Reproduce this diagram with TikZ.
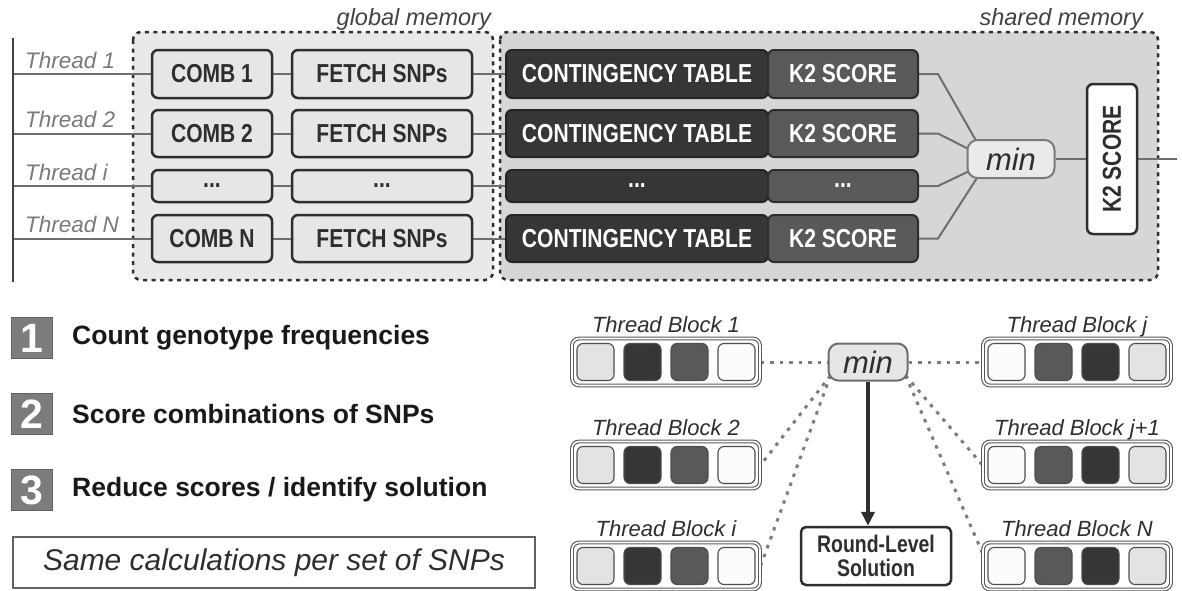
\documentclass[tikz,border=0pt]{standalone}
\usepackage{fontspec}
\setmainfont{Liberation Sans}
\newfontfamily\condf[FakeStretch=0.81]{Liberation Sans}
\usetikzlibrary{calc,arrows.meta}
\pgfdeclarelayer{bg}
\pgfdeclarelayer{conn}
\pgfsetlayers{bg,conn,main}
\definecolor{ink}{HTML}{2E2E2E}
\definecolor{lightbg}{HTML}{E9E9E9}
\definecolor{sharedbg}{HTML}{D6D6D6}
\definecolor{boxfill}{HTML}{E6E6E6}
\definecolor{darkfill}{HTML}{363636}
\definecolor{midfill}{HTML}{595959}
\definecolor{linegray}{HTML}{6E6E6E}
\definecolor{labelgray}{HTML}{7A7A7A}
\definecolor{numgray}{HTML}{7C7C7C}
\definecolor{cellwhite}{HTML}{FCFCFC}
\definecolor{celllight}{HTML}{E3E3E3}
\definecolor{minfill}{HTML}{EAEAEA}
\newcommand{\tdots}{\textbf{...}}
\tikzset{
  membox/.style={draw=ink, line width=2.5pt, dash pattern=on 4pt off 4.5pt, rounded corners=8pt},
  memlabel/.style={font=\itshape\fontsize{23.5}{25}\selectfont, text=ink!90, inner sep=0pt},
  threadlabel/.style={font=\itshape\fontsize{22.5}{24}\selectfont, text=labelgray, inner sep=0pt},
  boxtext/.style={font=\condf\bfseries\fontsize{26}{28}\selectfont, inner sep=0pt},
  lightbox/.style={boxtext, draw=ink, line width=2.5pt, rounded corners=6pt, fill=boxfill, text=ink},
  ctbox/.style={boxtext, draw=ink!80!black, line width=2pt, rounded corners=6pt, fill=darkfill, text=white},
  kbox/.style={boxtext, draw=ink, line width=2pt, rounded corners=6pt, fill=midfill, text=white},
  conn/.style={draw=linegray, line width=2pt},
  minnode/.style={draw=labelgray, line width=2pt, rounded corners=10pt, fill=minfill, inner sep=0pt,
     font=\itshape\fontsize{31}{31}\selectfont, text=ink},
  vbox/.style={boxtext, draw=ink, line width=2.5pt, rounded corners=6pt, fill=white, text=ink},
  tbbox/.style={draw=ink!80, line width=1.1pt, double=white, double distance=1.6pt, rounded corners=7pt,
     fill=white, minimum width=188pt, minimum height=47pt, inner sep=0pt},
  cell/.style={draw=ink!85, line width=1.1pt, rounded corners=6pt, minimum size=37pt, inner sep=0pt},
  tblabel/.style={font=\itshape\fontsize{22}{24}\selectfont, text=ink, inner sep=0pt, anchor=base},
  dotconn/.style={draw=linegray!90, line width=3pt, dash pattern=on 3.5pt off 6pt},
  numbox/.style={fill=numgray, draw=numgray!80!black, line width=0.8pt, minimum size=41pt, inner sep=0pt,
     text=white, font=\bfseries\fontsize{41}{41}\selectfont},
  legtext/.style={anchor=west, inner sep=0pt, font=\bfseries\fontsize{26.5}{28}\selectfont, text=black!90},
}
\begin{document}
\begin{tikzpicture}[x=1pt,y=-1pt]
\useasboundingbox (0,0) rectangle (1182,590);

% ---------- memory regions ----------
\begin{pgfonlayer}{bg}
\fill[white] (0,0) rectangle (1182,590);
\draw[membox, fill=lightbg] (133,32) rectangle (493,280);
\draw[membox, fill=sharedbg] (500,32) rectangle (1158,280);
\end{pgfonlayer}
\node[memlabel, anchor=base east] (glab) at (491,25) {global memory};
\node[memlabel, anchor=base east] (slab) at (1143,25) {shared memory};

% ---------- thread bar ----------
\coordinate (bartop) at (13,38);
\coordinate (barbot) at (13,282);
\draw[line width=2.5pt, ink!90] (bartop) -- (barbot);

% ---------- min + final K2 ----------
\node[minnode, minimum width=87pt, minimum height=38pt] (min) at (1011,159) {min};
\node[vbox, minimum width=50pt, minimum height=150pt] (k2v) at (1112,159) {\rotatebox{90}{K2 SCORE}};
\coordinate (outc) at (1177,159);
\begin{pgfonlayer}{conn}
\draw[conn] (min) -- (k2v);
\draw[conn] (k2v) -- (outc);
\end{pgfonlayer}
\coordinate (mk1) at ($(min.north west)+(12,6)$);
\coordinate (mk2) at ($(min.west)+(6,-8)$);
\coordinate (mki) at ($(min.west)+(6,10.5)$);
\coordinate (mkN) at ($(min.west)+(13,15)$);

% ---------- thread rows ----------
\foreach \r/\y/\h/\cm/\ft/\ct/\ks/\tl in {
  1/74/48/COMB 1/FETCH SNPs/CONTINGENCY TABLE/K2 SCORE/Thread 1,
  2/133.5/47/COMB 2/FETCH SNPs/CONTINGENCY TABLE/K2 SCORE/Thread 2,
  i/186/32/\tdots/\tdots/\tdots/\tdots/Thread i,
  N/238.5/47/COMB N/FETCH SNPs/CONTINGENCY TABLE/K2 SCORE/Thread N}{
  \coordinate (bar\r) at (13,\y);
  \node[lightbox, minimum width=120pt, minimum height=\h pt] (comb\r) at (212,\y) {\cm};
  \node[lightbox, minimum width=180pt, minimum height=\h pt] (fetch\r) at (382,\y) {\ft};
  \node[ctbox, minimum width=262pt, minimum height=\h pt] (ct\r) at (637,\y) {\ct};
  \node[kbox, minimum width=150pt, minimum height=\h pt] (k2\r) at (843,\y) {\ks};
  \node[threadlabel, anchor=base west] (tl\r) at (25,\y-6) {\tl};
  \begin{pgfonlayer}{conn}
  \draw[conn] (bar\r) -- (comb\r);
  \draw[conn] (comb\r) -- (fetch\r);
  \draw[conn] (fetch\r) -- (ct\r);
  \draw[conn] (k2\r.east) -- ++(19,0) -- (mk\r);
  \end{pgfonlayer}
}

% ---------- legend ----------
\node[numbox] (n1) at (32,338) {1};
\node[numbox] (n2) at (32,414) {2};
\node[numbox] (n3) at (32,490) {3};
\node[legtext] (l1) at (72,338) {Count genotype frequencies};
\node[legtext] (l2) at (72,414) {Score combinations of SNPs};
\node[legtext] (l3) at (72,490) {Reduce scores / identify solution};
\node[draw=ink!75, line width=2pt, fill=white, minimum width=522pt, minimum height=51pt, inner sep=0pt,
      font=\itshape\fontsize{30}{30}\selectfont, text=ink] (note) at (274,562.5) {Same calculations per set of SNPs};

% ---------- thread blocks ----------
\foreach \b/\x/\y/\lab/\ca/\cb/\cc/\cd in {
  1/666/362/Thread Block 1/celllight/darkfill/midfill/cellwhite,
  2/666/465/Thread Block 2/celllight/darkfill/midfill/cellwhite,
  i/666/566/Thread Block i/celllight/darkfill/midfill/cellwhite,
  j/1077/362/Thread Block j/cellwhite/midfill/darkfill/celllight,
  jp/1077/465/Thread Block j+1/cellwhite/midfill/darkfill/celllight,
  N/1077/566/Thread Block N/cellwhite/midfill/darkfill/celllight}{
  \node[tbbox] (tb\b) at (\x,\y) {};
  \node[cell, fill=\ca] (tb\b c1) at (\x-70.5,\y) {};
  \node[cell, fill=\cb] (tb\b c2) at (\x-23.5,\y) {};
  \node[cell, fill=\cc] (tb\b c3) at (\x+23.5,\y) {};
  \node[cell, fill=\cd] (tb\b c4) at (\x+70.5,\y) {};
  \node[tblabel] (tb\b lab) at ($(tb\b.north)+(0,-5)$) {\lab};
}

\node[minnode, draw=ink!70, fill=boxfill, minimum width=79pt, minimum height=37pt] (min2) at (868,362) {min};
\node[boxtext, draw=ink, line width=2.5pt, rounded corners=5pt, fill=white, text=ink, align=center,
      minimum width=150pt, minimum height=58pt, font=\condf\bfseries\fontsize{24}{24}\selectfont] (rls) at (876,556)
      {Round-Level\\Solution};

\coordinate (sL) at ($(min2.south west)+(3,-6)$);
\coordinate (sR) at ($(min2.south east)+(-3,-6)$);
\begin{pgfonlayer}{conn}
\draw[dotconn] (tb1) -- (min2);
\draw[dotconn] (min2) -- (tbj);
\draw[dotconn] (sL) -- (tb2.east);
\draw[dotconn] (sL) -- (tbi.east);
\draw[dotconn] (sR) -- (tbjp.west);
\draw[dotconn] (sR) -- ($(tbN.west)+(0,-13)$);
\end{pgfonlayer}
\draw[-{Triangle[length=14pt,width=13pt]}, line width=3.5pt, ink] (min2.south) -- (min2.south |- rls.north);
\end{tikzpicture}
\end{document}
